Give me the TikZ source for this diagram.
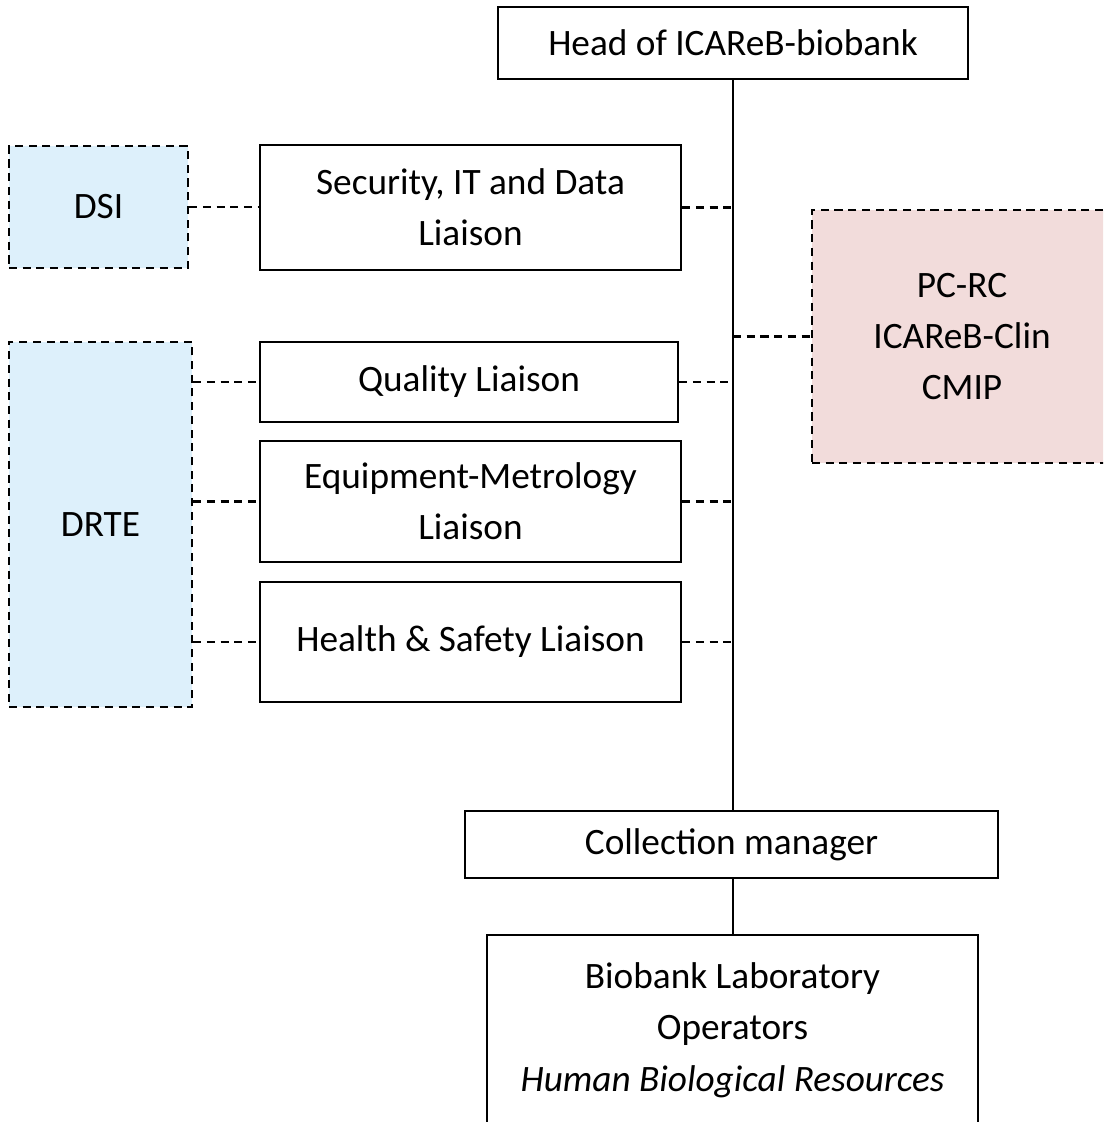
\documentclass[tikz,border=0pt]{standalone}
\usepackage{fontspec}
\setmainfont{Carlito}
\definecolor{dsiblue}{HTML}{DDF0FB}
\definecolor{pcpink}{HTML}{F2DCDB}

\begin{document}
\begin{tikzpicture}[x=0.01cm,y=-0.01cm,
        box/.style={draw,line width=0.6pt,inner sep=0pt,align=center,font=\fontsize{10.6}{14.6}\selectfont},
        ext/.style={box,dash pattern=on 2.3pt off 1.6pt},
        dline/.style={line width=0.6pt,dash pattern=on 2.3pt off 1.6pt}]
    \clip (0,0) rectangle (1103,1122);

    \node[box,minimum width=4.70cm,minimum height=0.72cm] (head) at (733,43) {Head of ICAReB-biobank};
    \node[box,minimum width=4.21cm,minimum height=1.25cm] (sec) at (470.5,207.5) {Security, IT and Data\\Liaison};
    \node[box,minimum width=4.18cm,minimum height=0.80cm] (qual) at (469,382) {Quality Liaison};
    \node[box,minimum width=4.21cm,minimum height=1.21cm] (equip) at (470.5,501.5) {Equipment-Metrology\\Liaison};
    \node[box,minimum width=4.21cm,minimum height=1.20cm] (health) at (470.5,642) {Health \& Safety Liaison};
    \node[box,minimum width=5.33cm,minimum height=0.67cm] (coll) at (731.5,844.5) {Collection manager};
    \node[box,minimum width=4.91cm,minimum height=1.90cm] (lab) at (732.5,1030) {Biobank Laboratory\\Operators\\\textit{Human Biological Resources}};

    \node[ext,fill=dsiblue,minimum width=1.79cm,minimum height=1.22cm] (dsi) at (98.5,207) {DSI};
    \node[ext,fill=dsiblue,minimum width=1.83cm,minimum height=3.65cm] (drte) at (100.5,524.5) {DRTE};
    \node[ext,fill=pcpink,minimum width=3.00cm,minimum height=2.53cm] (pc) at (962,336.5) {PC-RC\\ICAReB-Clin\\CMIP};

    \draw[line width=0.6pt] (head.south) -- (head.south |- coll.north);
    \draw[line width=0.6pt] (coll.south -| head.south) -- (lab.north -| head.south);

    \draw[dline] (sec.east) -- (sec.east -| head.south);
    \draw[dline] (qual.east) -- (qual.east -| head.south);
    \draw[dline] (equip.east) -- (equip.east -| head.south);
    \draw[dline] (health.east) -- (health.east -| head.south);
    \draw[dline] (pc.west -| head.south) -- (pc.west);

    \draw[dline] (dsi.east) -- (dsi.east -| sec.west);
    \draw[dline] (qual.west -| drte.east) -- (qual.west);
    \draw[dline] (equip.west -| drte.east) -- (equip.west);
    \draw[dline] (health.west -| drte.east) -- (health.west);
\end{tikzpicture}
\end{document}
